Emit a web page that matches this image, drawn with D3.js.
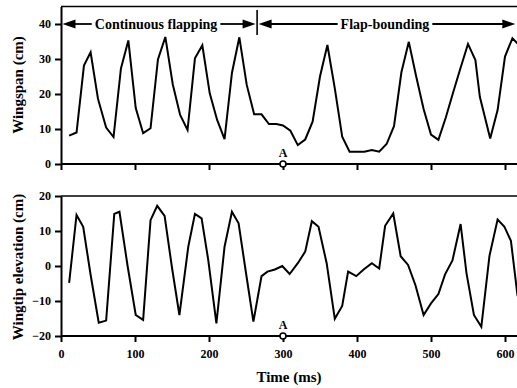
<!DOCTYPE html>
<html><head><meta charset="utf-8">
<script src="https://cdn.jsdelivr.net/npm/d3@7"></script>
<style>
html,body{margin:0;padding:0;background:#fff;}
svg{display:block;}
text{font-family:"Liberation Serif","Times New Roman",serif;fill:#000;}
</style></head>
<body>
<svg id="chart" width="517" height="388"></svg>
<script>
// ---- data ----
const spanTime = [11,21,31,40,50,61,71,81,91,101,111,121,131,141,151,161,171,181,191,201,211,221,231,241,251,261,271,281,291,300,310,320,330,340,350,360,370,380,390,400,410,420,430,440,450,460,470,480,490,500,510,520,530,540,550,560,566,580,590,600,610,617];
const spanValue = [8.1,9.0,28.1,31.9,18.6,10.4,7.7,27.3,35.3,16.0,8.8,10.2,29.9,36.3,22.8,14.0,9.7,30.2,33.9,20.2,12.6,7.1,26.0,36.2,22.6,14.2,14.2,11.4,11.4,11.0,9.5,5.4,7.0,12.1,25.0,34.0,21.6,7.8,3.5,3.5,3.5,4.0,3.5,5.7,10.8,26.2,34.9,25.0,15.7,8.4,6.9,13.3,20.5,27.5,34.3,29.7,19.2,7.3,15.4,30.7,35.9,34.4];

const elevTime = [11,21,30,40,51,61,72,79,90,101,111,121,130,140,150,160,172,181,190,199,210,221,231,240,250,260,271,279,289,299,309,320,330,339,348,359,370,380,388,399,409,420,430,438,449,459,469,479,490,500,510,519,529,540,548,558,568,579,590,599,608,617];
const elevValue = [-4.8,14.6,11.2,-2.5,-16.2,-15.6,14.9,15.5,0,-14.0,-15.4,13.1,17.2,14.3,-0.5,-14.0,5.5,14.9,13.6,1.7,-16.4,5.5,15.5,12.2,-2.0,-15.9,-2.9,-1.6,-1.0,0,-2.3,0.8,4.1,12.8,11.2,0.8,-15.1,-11.4,-1.6,-2.9,-1.0,0.8,-0.7,11.5,15.0,2.8,0.3,-5.5,-14.0,-10.7,-8.0,-2.4,1.6,12.0,-2.1,-14.0,-17.4,2.9,13.3,11.3,7.2,-8.6];

const timeTicks = [0,100,200,300,400,500,600];
const spanTicks = [0,10,20,30,40];
const elevTicks = [-20,-10,0,10,20];
const phaseNames = ["Continuous flapping","Flap-bounding"];
const phaseBounds = [0,265,616];
const markerTime = 300;
const markerLabel = "A";

// ---- layout ----
const svg = d3.select("#chart");
const left = 61;
const x = d3.scaleLinear().domain([0,620]).range([left, left + 620*0.74]);
const yTop = d3.scaleLinear().domain([0,45]).range([164, 6.5]);
const yBot = d3.scaleLinear().domain([-20,20]).range([336, 196]);

svg.append("defs").append("clipPath").attr("id","clip")
  .append("rect").attr("x",0).attr("y",0).attr("width",517).attr("height",388);

function panel(y, yticks, times, values, title, titleY, showXLabels){
  const g = svg.append("g");
  const [y0,y1] = y.range();
  g.append("line").attr("x1",left).attr("x2",517).attr("y1",y1).attr("y2",y1)
    .attr("stroke","#000").attr("stroke-width",1.6);
  const ax = g.append("g").attr("transform",`translate(${left},0)`)
    .call(d3.axisLeft(y).tickValues(yticks).tickSize(6).tickSizeOuter(0).tickPadding(4).tickFormat(d3.format("d")));
  ax.select(".domain").attr("stroke-width",2);
  ax.selectAll(".tick line").attr("stroke-width",2);
  ax.selectAll(".tick text").attr("font-size",12).attr("font-weight","bold")
    .attr("font-family","'Liberation Serif',serif");
  const bx = g.append("g").attr("transform",`translate(0,${y0})`)
    .call(d3.axisBottom(x).tickValues(timeTicks).tickSize(6).tickSizeOuter(0).tickPadding(7));
  bx.select(".domain").attr("stroke-width",2).attr("d",`M${left},0H517`);
  bx.selectAll(".tick line").attr("stroke-width",2);
  if (showXLabels) {
    bx.selectAll(".tick text").attr("font-size",12).attr("font-weight","bold")
      .attr("font-family","'Liberation Serif',serif");
  } else {
    bx.selectAll(".tick text").remove();
  }
  const line = d3.line().x((d,i)=>x(times[i])).y((d)=>y(d));
  g.append("path").datum(values).attr("d",line).attr("fill","none")
    .attr("stroke","#000").attr("stroke-width",2).attr("stroke-linejoin","miter")
    .attr("clip-path","url(#clip)");
  g.append("circle").attr("cx",x(markerTime)).attr("cy",y0).attr("r",3)
    .attr("fill","#fff").attr("stroke","#000").attr("stroke-width",1.6);
  g.append("text").attr("x",x(markerTime)).attr("y",y0-7).attr("text-anchor","middle")
    .attr("font-size",12).attr("font-weight","bold").text(markerLabel);
  g.append("text").attr("transform",`translate(23,${titleY}) rotate(-90)`)
    .attr("text-anchor","middle").attr("font-size",15).attr("font-weight","bold").text(title);
  return g;
}

panel(yTop, spanTicks, spanTime, spanValue, "Wingspan (cm)", 85, false);
panel(yBot, elevTicks, elevTime, elevValue, "Wingtip elevation (cm)", 267, true);

svg.append("text").attr("x",289).attr("y",382).attr("text-anchor","middle")
  .attr("font-size",15).attr("font-weight","bold").text("Time (ms)");

// phase annotation
const ay = yTop(40);
const ann = svg.append("g");
function arrowHead(xTip, dir){
  const L=13,H=4.5;
  ann.append("path").attr("d",`M${xTip},${ay}L${xTip-dir*L},${ay-H}L${xTip-dir*L},${ay+H}Z`).attr("fill","#000");
}
phaseNames.forEach((name,i)=>{
  const xs = x(phaseBounds[i]) + 1.5, xe = Math.min(x(phaseBounds[i+1]) - 1.5, 516.5);
  const t = ann.append("text").attr("x",(xs+xe)/2 - (i===0?3:2)).attr("y",ay+5).attr("text-anchor","middle")
    .attr("font-size",14).attr("font-weight","bold").text(name);
  const w = t.node().getComputedTextLength();
  const cx = +t.attr("x");
  ann.append("line").attr("x1",xs+4).attr("x2",cx-w/2-3).attr("y1",ay).attr("y2",ay).attr("stroke","#000").attr("stroke-width",1.8);
  ann.append("line").attr("x1",cx+w/2+3).attr("x2",xe-4).attr("y1",ay).attr("y2",ay).attr("stroke","#000").attr("stroke-width",1.8);
  arrowHead(xs,-1);
  arrowHead(xe,1);
});
ann.append("line").attr("x1",x(phaseBounds[1])).attr("x2",x(phaseBounds[1]))
  .attr("y1",10).attr("y2",35).attr("stroke","#000").attr("stroke-width",1.6);
</script>
</body></html>
